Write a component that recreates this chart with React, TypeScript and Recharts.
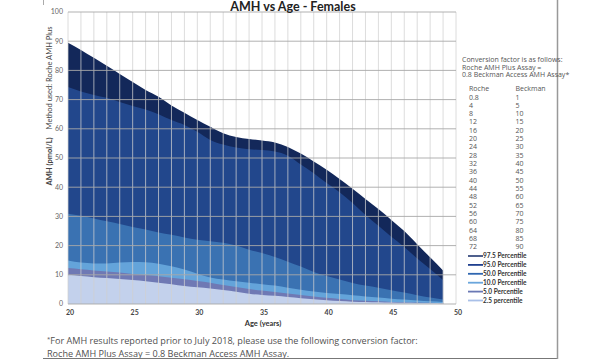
import React from "react";
import { AreaChart, Area, XAxis, YAxis, ReferenceLine } from "recharts";

const ages = [20,21,22,23,24,25,26,27,28,29,30,31,32,33,34,35,36,37,38,39,40,41,42,43,44,45,46,47,48,49];
const p975 = [89.5,87,84.3,81.6,78.8,76,73.3,71,68,65.5,63,60.7,58.5,57.2,56.5,56,55.3,53.8,51.5,48.8,46,42.8,39.5,36,32.5,28.8,25,20.5,16,11.5];
const p950 = [74.3,72.8,71.6,70.6,69.2,67.8,66.6,65,63,61.3,59,56.2,54.6,53.6,53,52.7,52.2,50.8,47.8,44.8,41.4,38.3,34.6,30.5,26.8,23,19.5,15.6,12,8.2];
const p500 = [30.9,30.2,29.3,28.3,27.4,26.4,25.5,24.5,23.7,22.8,22,21.5,21,20,18.6,17.5,16.1,14.5,12.8,11,9.6,8.4,7.2,6.3,5.6,4.7,3.9,3,2.2,1.5];
const p100 = [14.9,14.2,13.9,13.9,14.2,14.4,14.3,13.8,12.9,11.8,10.4,9.1,8.4,7.8,7.3,6.8,6.3,5.6,4.9,4.3,3.8,3.4,3.0,2.6,2.2,1.8,1.5,1.2,0.9,0.7];
const p50 = [12.3,11.9,11.5,11.1,10.8,10.3,9.9,9.5,9.0,8.5,7.9,7.3,6.5,5.8,5.1,4.6,4.1,3.6,3.1,2.6,2.1,1.7,1.3,1.1,0.9,0.7,0.6,0.5,0.4,0.3];
const p25 = [10.0,9.6,9.2,8.9,8.6,8.2,7.8,7.3,6.8,6.2,5.7,5.3,4.8,4.2,3.5,3.1,2.8,2.4,2.0,1.6,1.3,1.0,0.8,0.7,0.6,0.5,0.4,0.35,0.3,0.25];

const seriesKeys = ["p975", "p950", "p500", "p100", "p50", "p25"];
const seriesNames = ["97.5 Percentile", "95.0 Percentile", "50.0 Percentile", "10.0 Percentile", "5.0 Percentile", "2.5 percentile"];
const fills = ["#13285a", "#22478c", "#3a72b2", "#64a4da", "#6f79b4", "#c3d1ec"];
const legendColors = ["#3b4f80", "#1f3f8f", "#2f66b0", "#6aa6dc", "#6a78b4", "#a9c0e8"];

const rocheVals = ["0.8","4","8","12","16","20","24","28","32","36","40","44","48","52","56","60","64","68","72"];
const beckmanVals = ["1","5","10","15","20","25","30","35","40","45","50","55","60","65","70","75","80","85","90"];

const xTicks = [20,25,30,35,40,45,50];
const yTicks = [0,10,20,30,40,50,60,70,80,90,100];
const vGrid = [20,21,22,23,24,25,26,27,28,29,30,31,32,33,34,35,36,37,38,39,40,41,42,43,44,45,46,47,48,49,50];

const seriesValues = [p975, p950, p500, p100, p50, p25];
const data = ages.map((age, i) => {
  const row: Record<string, number> = { age };
  seriesKeys.forEach((k, j) => { row[k] = seriesValues[j][i]; });
  return row;
});

const txt = "#555";

export default function App() {
  return (
    <div style={{ position: "absolute", left: 0, top: 0, width: 600, height: 360, background: "#fff", fontFamily: "Lato, sans-serif" }}>
      <AreaChart width={600} height={360} data={data} margin={{ top: 12, right: 144, bottom: 36, left: 38 }}>
        <XAxis dataKey="age" type="number" domain={[20, 50]} ticks={xTicks} axisLine={false} tickLine={false} tickSize={4} tickMargin={2} height={20}
          tick={{ fontSize: 7, fontWeight: 700, fill: "#444", fontFamily: "Lato, sans-serif", dx: 2 }} interval={0} />
        <YAxis type="number" domain={[0, 100]} ticks={yTicks} axisLine={false} tickLine={false} tickSize={3} tickMargin={2} width={30}
          tick={{ fontSize: 7, fill: "#666", fontFamily: "Lato, sans-serif" }} interval={0} />
        {seriesKeys.map((k, j) => (
          <Area key={k} dataKey={k} name={seriesNames[j]} type="monotone" fill={fills[j]} fillOpacity={1} stroke="none" isAnimationActive={false} baseValue={0} />
        ))}
        {vGrid.map((v) => (
          <ReferenceLine key={"v" + v} x={v} stroke="#d0d0d0" strokeOpacity={0.75} strokeWidth={1} />
        ))}
        {yTicks.map((v) => (
          <ReferenceLine key={"h" + v} y={v} stroke="#a8a8a8" strokeOpacity={0.9} strokeWidth={1} />
        ))}
      </AreaChart>
      <svg width={600} height={360} style={{ position: "absolute", left: 0, top: 0, pointerEvents: "none" }}>
        <text x={293} y={11} textAnchor="middle" fontSize={12.5} fontWeight={700} fill="#222" fontFamily="Lato, sans-serif">AMH vs Age - Females</text>
        <text transform="translate(52,106) rotate(-90)" textAnchor="middle" fontSize={7.5} fill="#444" fontFamily="Lato, sans-serif">
          <tspan fontWeight={700}>AMH (pmol/L)</tspan>
          <tspan dx={8}>Method used: Roche AMH Plus</tspan>
        </text>
        <text x={263} y={326} textAnchor="middle" fontSize={7.5} fontWeight={700} fill="#333" fontFamily="Lato, sans-serif">Age (years)</text>
        <text x={47} y={344} fontSize={9.1} fill="#505050" fontFamily="'Open Sans', sans-serif">
          <tspan fontSize={6} dy={-3}>*</tspan><tspan dy={3}>For AMH results reported prior to July 2018, please use the following conversion factor:</tspan>
        </text>
        <text x={47} y={356.5} fontSize={9.1} fill="#505050" fontFamily="'Open Sans', sans-serif">Roche AMH Plus Assay = 0.8 Beckman Access AMH Assay.</text>
        <line x1={43} y1={358.5} x2={558} y2={358.5} stroke="#777" strokeWidth={1} />
        <line x1={557.5} y1={0} x2={557.5} y2={359} stroke="#999" strokeWidth={1.5} />
        <line x1={43.5} y1={0} x2={43.5} y2={5} stroke="#aaa" strokeWidth={1} />
        <g fontFamily="'Open Sans', sans-serif" fontSize={7} fill={txt} fontWeight={400}>
          <text x={462} y={62}>Conversion factor is as follows:</text>
          <text x={462} y={69.5}>Roche AMH Plus Assay =</text>
          <text x={462} y={77}>0.8 Beckman Access AMH Assay*</text>
          <text x={469} y={90.5}>Roche</text>
          <text x={515.5} y={90.5}>Beckman</text>
          {rocheVals.map((r, i) => (
            <g key={r}>
              <text x={469} y={99.5 + i * 8.33}>{r}</text>
              <text x={515.5} y={99.5 + i * 8.33}>{beckmanVals[i]}</text>
            </g>
          ))}
        </g>
        <g fontFamily="Lato, sans-serif" fontSize={6.5} fontWeight={700} fill="#333">
          {seriesNames.map((n, i) => (
            <g key={n}>
              <line x1={468} y1={256 + i * 8.9} x2={483} y2={256 + i * 8.9} stroke={legendColors[i]} strokeWidth={1.8} />
              <text x={483} y={258.3 + i * 8.9}>{n}</text>
            </g>
          ))}
        </g>
      </svg>
    </div>
  );
}
